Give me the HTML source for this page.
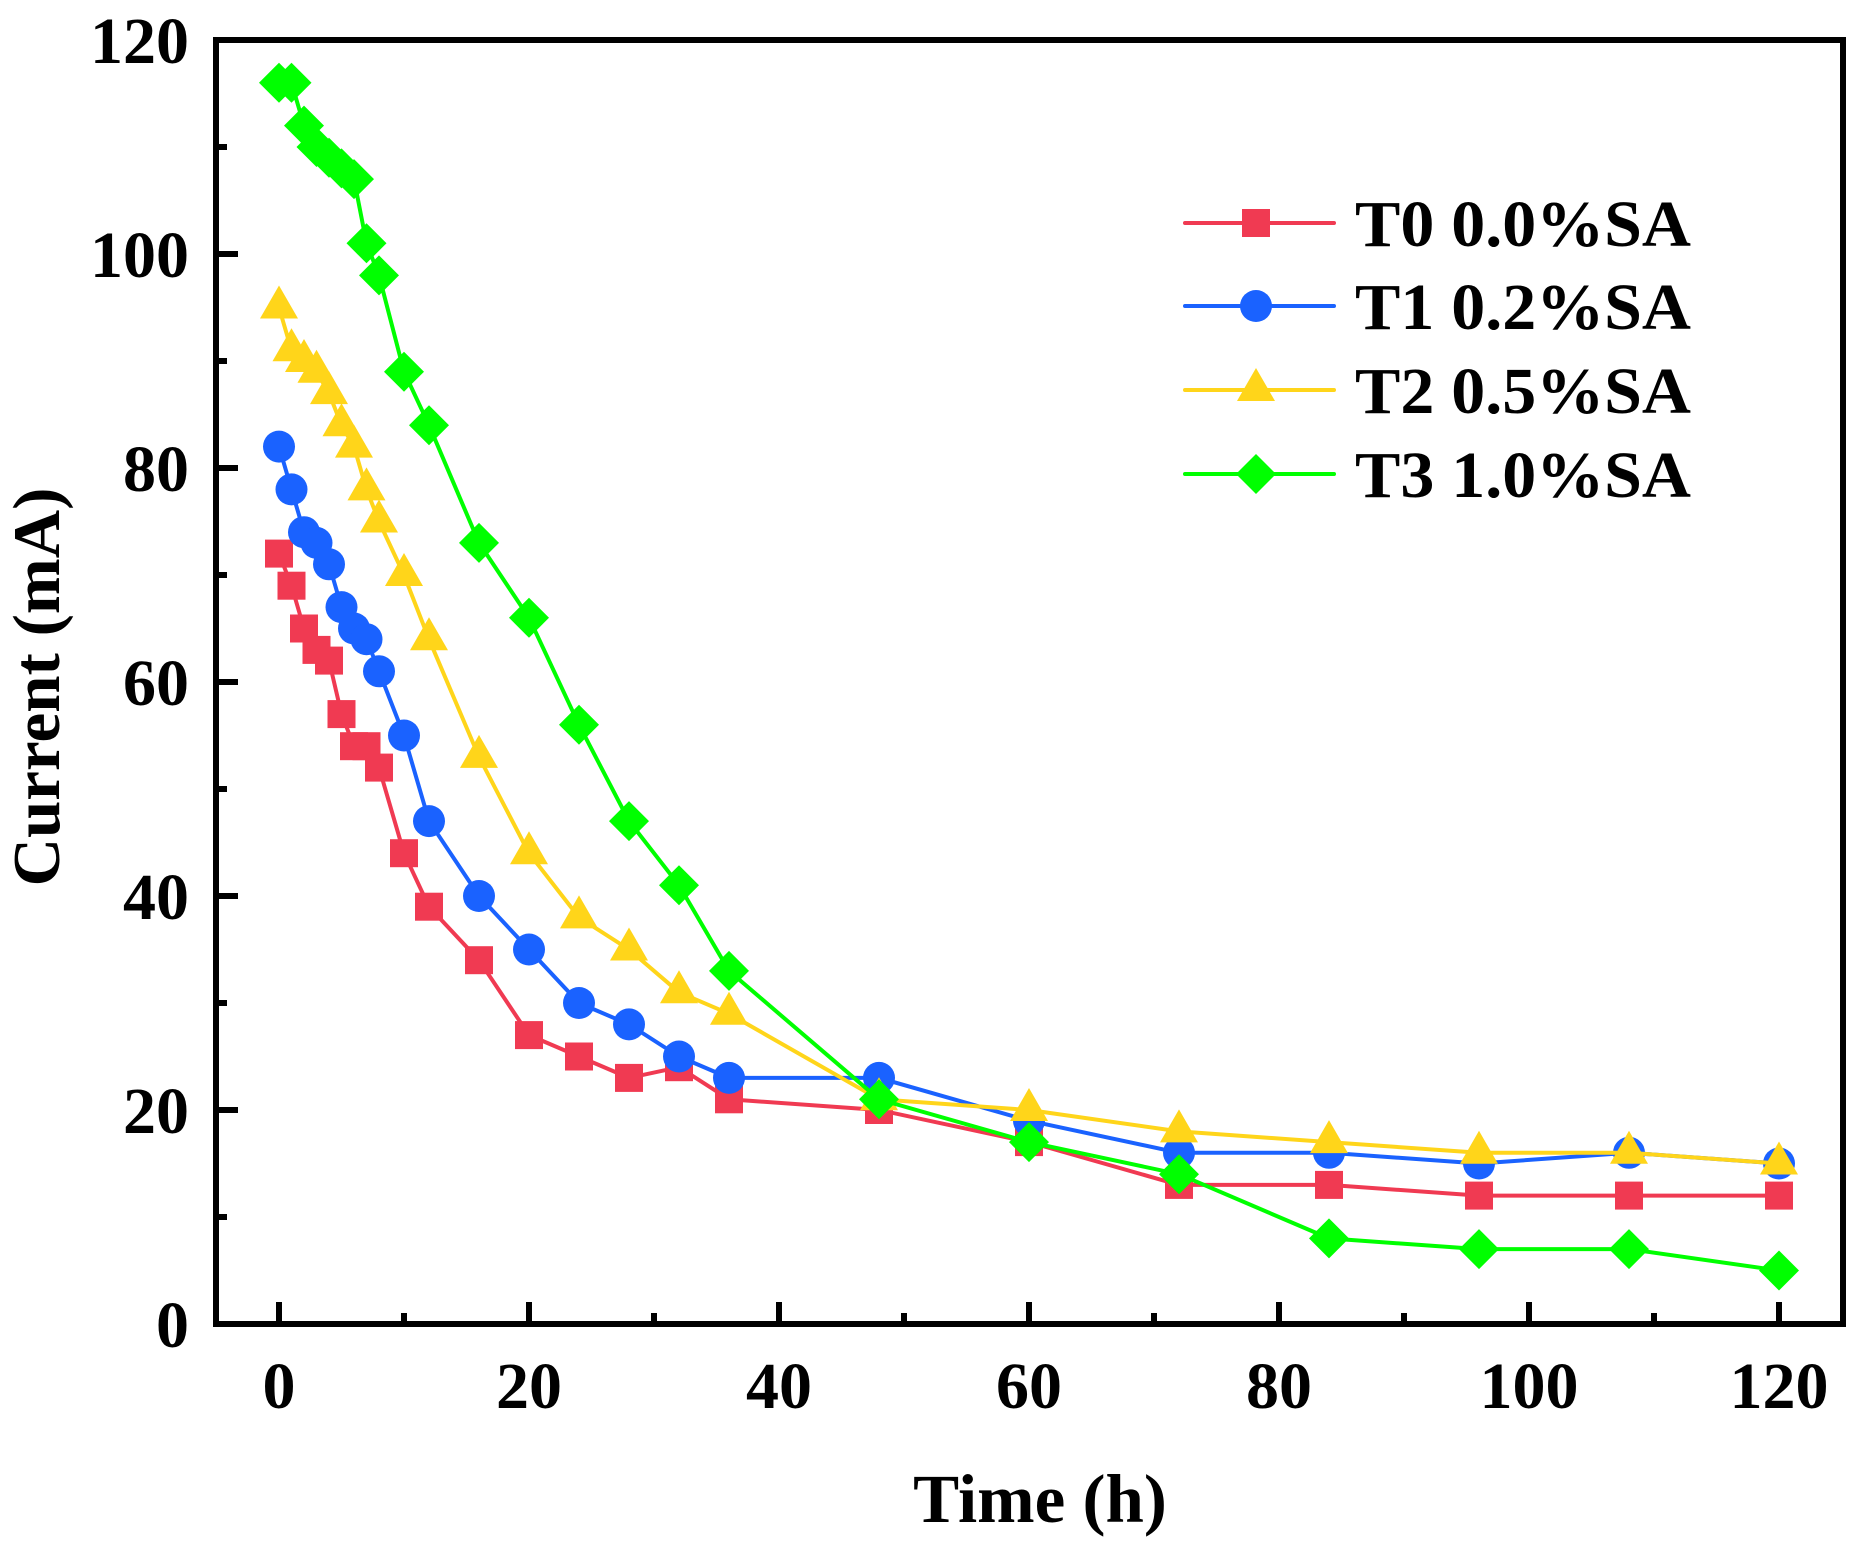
<!DOCTYPE html>
<html><head><meta charset="utf-8"><style>
html,body{margin:0;padding:0;background:#fff}
svg{display:block;font-family:"Liberation Serif",serif;font-weight:bold}
</style></head><body>
<svg id="chart" width="1866" height="1542" viewBox="0 0 1866 1542" xmlns="http://www.w3.org/2000/svg">
<g id="plot"></g>
</svg>
<script>
const times = [0,1,2,3,4,5,6,7,8,10,12,16,20,24,28,32,36,48,60,72,84,96,108,120];
const t0 = [72,69,65,63,62,57,54,54,52,44,39,34,27,25,23,24,21,20,17,13,13,12,12,12];
const t1 = [82,78,74,73,71,67,65,64,61,55,47,40,35,30,28,25,23,23,19,16,16,15,16,15];
const t2 = [95,91,90,89,87,84,82,78,75,70,64,53,44,38,35,31,29,21,20,18,17,16,16,15];
const t3 = [116,116,112,110,109,108,107,101,98,89,84,73,66,56,47,41,33,21,17,14,8,7,7,5];
const seriesNames = ["T0 0.0%SA","T1 0.2%SA","T2 0.5%SA","T3 1.0%SA"];
const xTicks = [0,20,40,60,80,100,120];
const yTicks = [0,20,40,60,80,100,120];

const NS="http://www.w3.org/2000/svg";
const g=document.getElementById('plot');
const L=216,R=1843,T=40,B=1324;
const X=v=>279+v*12.5;
const Y=v=>B-(v/120)*(B-T);
function mk(tag,attrs,parent){const e=document.createElementNS(NS,tag);for(const k in attrs)e.setAttribute(k,attrs[k]);(parent||g).appendChild(e);return e;}

const fr=mk('rect',{x:L,y:T,width:R-L,height:B-T,fill:'none',stroke:'#000','stroke-width':6});



for(let v=0;v<=125;v+=10){
  const major=v%20===0;
  const tk=mk('line',{x1:X(v),x2:X(v),y1:B,y2:B-(major?22:11),stroke:'#000','stroke-width':6});
  
  
}
xTicks.forEach(v=>{
  const t=mk('text',{x:X(v),y:1408,'font-size':66,'text-anchor':'middle'});
  t.textContent=v;
  
  
});
for(let v=10;v<120;v+=10){
  const major=v%20===0;
  const tk=mk('line',{x1:L,x2:L+(major?22:11),y1:Y(v),y2:Y(v),stroke:'#000','stroke-width':6});
  
  
}
yTicks.forEach(v=>{
  const t=mk('text',{x:189,y:Y(v)+23,'font-size':66,'text-anchor':'end'});
  t.textContent=v;
  
  
});
const xt=mk('text',{x:1040,y:1522,'font-size':69,'text-anchor':'middle'});
xt.textContent='Time (h)';


const yt=mk('text',{x:0,y:0,'font-size':67,'text-anchor':'middle',transform:'translate(59,687) rotate(-90)'});
yt.textContent='Current (mA)';



const colors=['#f03a52','#1a62ff','#ffd51a','#00ff00'];
const shapes=['square','circle','triangle','diamond'];
function marker(shape,x,y,c){
  let e;
  if(shape==='square') e=mk('rect',{x:x-14,y:y-14,width:28,height:28,fill:c});
  else if(shape==='circle') e=mk('circle',{cx:x,cy:y,r:16,fill:c});
  else if(shape==='triangle') e=mk('polygon',{points:`${x},${y-22} ${x-19},${y+11} ${x+19},${y+11}`,fill:c});
  else e=mk('polygon',{points:`${x},${y-20} ${x+20},${y} ${x},${y+20} ${x-20},${y}`,fill:c});
  return e;
}
[t0,t1,t2,t3].forEach((s,i)=>{
  const pl=mk('polyline',{points:s.map((v,j)=>X(times[j])+','+Y(v)).join(' '),fill:'none',stroke:colors[i],'stroke-width':4,'stroke-linejoin':'round'});
  
  
  s.forEach((v,j)=>{
    const m=marker(shapes[i],X(times[j]),Y(v),colors[i]);
    
    
  });
});
const ly=[223,306,390,474];
seriesNames.forEach((n,i)=>{
  const ln=mk('line',{x1:1185,x2:1334,y1:ly[i],y2:ly[i],stroke:colors[i],'stroke-width':4,'stroke-linecap':'round'});
  
  
  const m=marker(shapes[i],1256,ly[i],colors[i]);
  
  
  const t=mk('text',{x:1355,y:ly[i]+23,'font-size':66,textLength:336,lengthAdjust:'spacingAndGlyphs'});
  t.textContent=n;
  
  
});
</script>
</body></html>
